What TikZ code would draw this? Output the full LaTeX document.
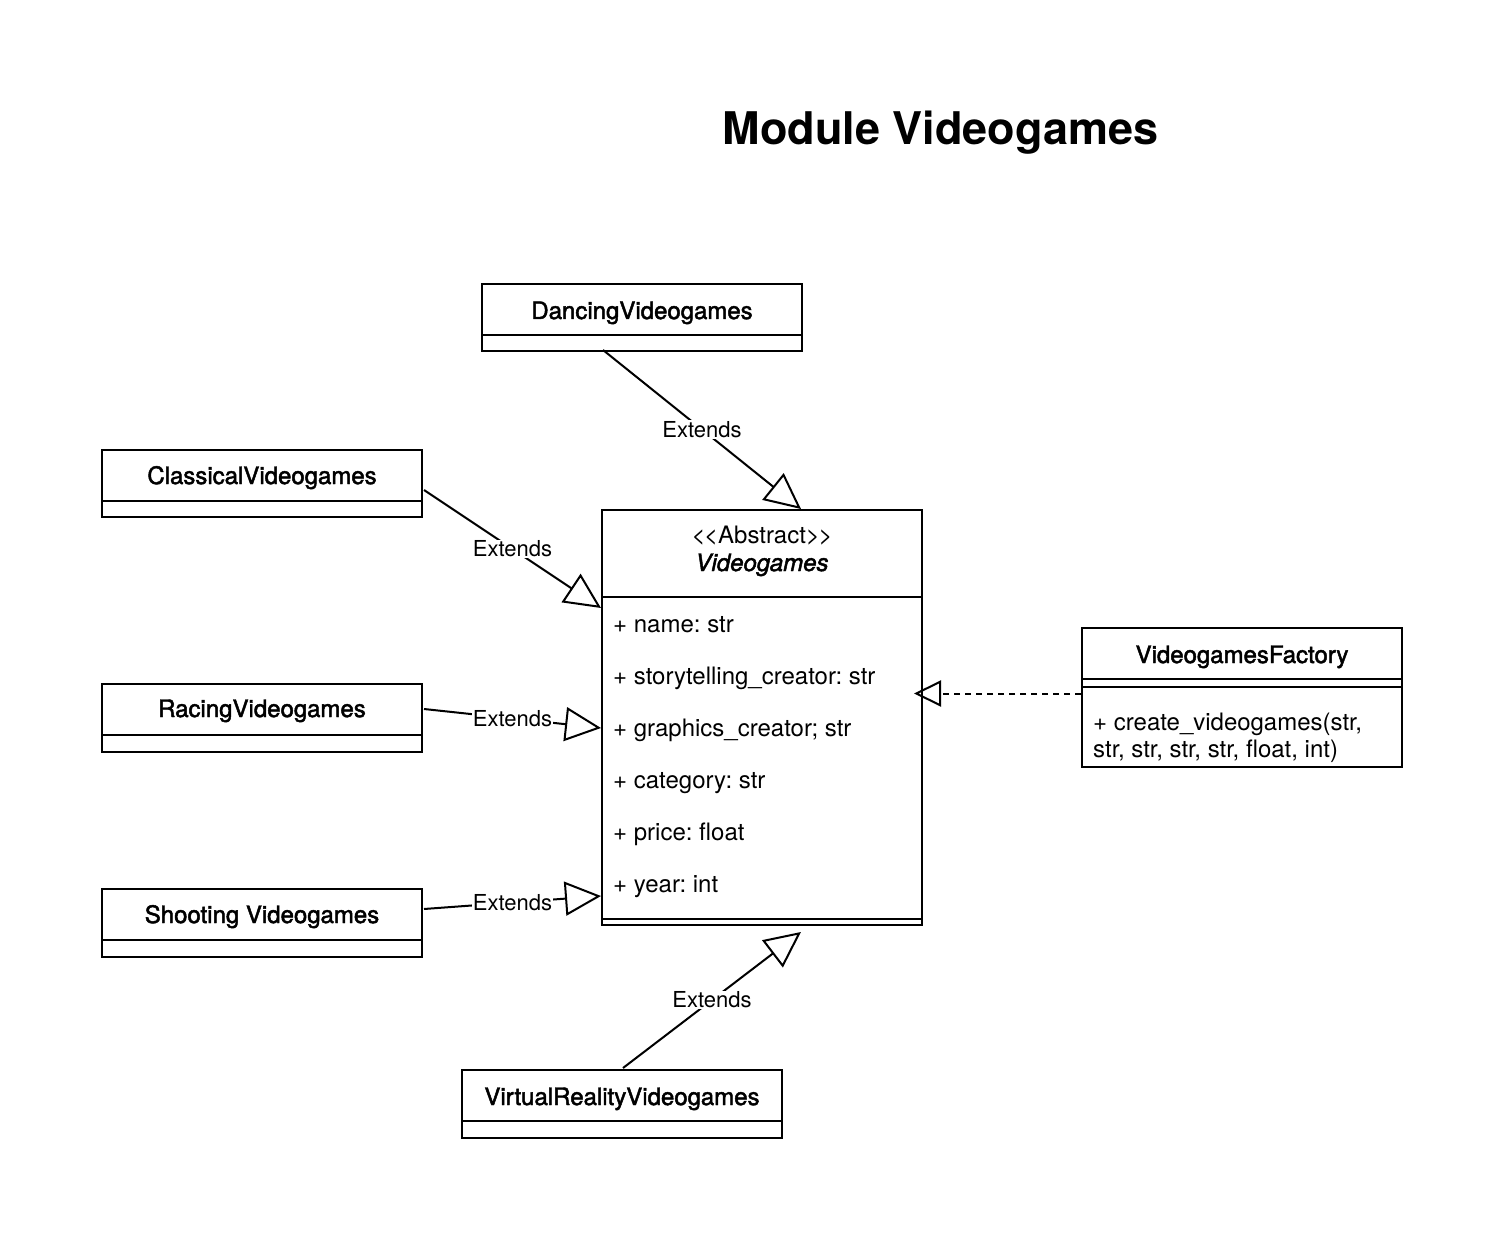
\documentclass[tikz,border=0pt]{standalone}
\usepackage{fontspec}
\setmainfont{TeX Gyre Heros}
\newfontfamily\fbfont{TeX Gyre Heros}[FakeBold=2]
\usetikzlibrary{arrows.meta,calc}
\frenchspacing
\tikzset{
  clsbox/.style={draw, line width=2pt, minimum width=320pt, minimum height=#1, inner sep=0pt, anchor=north west},
  divider/.style={line width=2pt},
  clsname/.style={anchor=base, inner sep=0pt, font=\fbfont\fontsize{24}{28}\selectfont},
  attr/.style={anchor=base west, inner sep=0pt, font=\fontsize{24}{28}\selectfont},
  lbl/.style={pos=0.5, fill=white, inner sep=1pt, font=\fontsize{22}{26}\selectfont},
  genl/.style={line width=2pt, -{Triangle[open, length=36pt, width=34pt]}},
  realz/.style={line width=2pt, dash pattern=on 6pt off 5pt, -{Triangle[open, length=27pt, width=26pt]}}
}
\begin{document}
\begin{tikzpicture}[x=1pt, y=-1pt]
\useasboundingbox[fill=white] (0,0) rectangle (1502,1238);

% title
\node[anchor=base, inner sep=0pt, font=\bfseries\fontsize{45}{52}\selectfont] (title) at (940.5,145) {Module Videogames};

% boxes
\node[clsbox=67pt] (dancing) at (481,283) {};
\node[clsbox=67pt] (classical) at (101,449) {};
\node[clsbox=68pt] (racing) at (101,683) {};
\node[clsbox=68pt] (shooting) at (101,888) {};
\node[clsbox=68pt] (vr) at (461,1069) {};
\node[clsbox=415pt] (vg) at (601,509) {};
\node[clsbox=139pt] (factory) at (1081,627) {};

% dividers
\foreach \b in {dancing,classical,racing,shooting,vr}{
  \draw[divider] ($(\b.north west)+(0,52)$) -- ($(\b.north east)+(0,52)$);
}
\draw[divider] ($(vg.north west)+(0,88)$) -- ($(vg.north east)+(0,88)$);
\draw[divider] ($(vg.south west)+(0,-7)$) -- ($(vg.south east)+(0,-7)$);
\draw[divider] ($(factory.north west)+(0,52)$) -- ($(factory.north east)+(0,52)$);
\draw[divider] ($(factory.north west)+(0,60)$) -- ($(factory.north east)+(0,60)$);

% class names
\node[clsname] (ndancing) at ($(dancing.north)+(0,36)$) {DancingVideogames};
\node[clsname] (nclassical) at ($(classical.north)+(0,35)$) {ClassicalVideogames};
\node[clsname] (nracing) at ($(racing.north)+(0,34)$) {RacingVideogames};
\node[clsname] (nshooting) at ($(shooting.north)+(0,35)$) {Shooting Videogames};
\node[clsname] (nvr) at ($(vr.north)+(0,36)$) {VirtualRealityVideogames};
\node[clsname] (nfactory) at ($(factory.north)+(0,36)$) {VideogamesFactory};

% abstract header
\node[attr, anchor=base] (stereo) at ($(vg.north)+(0,34)$) {<\kern-1.5pt<Abstract>\kern-1.5pt>};
\node[clsname] (nvg) at ($(vg.north)+(0,62)$) {\itshape Videogames};

% attributes
\node[attr] (a1) at (613,632) {+ name: str};
\node[attr] (a2) at (613,684) {+ storytelling\_creator: str};
\node[attr] (a3) at (613,736) {+ graphics\_creator; str};
\node[attr] (a4) at (613,788) {+ category: str};
\node[attr] (a5) at (613,840) {+ price: float};
\node[attr] (a6) at (613,892) {+ year: int};

% factory method
\node[attr] (m1) at (1093,730) {+ create\_videogames(str,};
\node[attr] (m2) at (1093,757) {str, str, str, str, float, int)};

% connectors
\draw[genl] ($(dancing.south)+(-39,-2)$) -- node[lbl] {Extends} ($(vg.north)+(39,0)$);
\draw[genl] ($(classical.east)+(1,6.5)$) -- node[lbl] {Extends} ($(vg.west)+(0,-109.5)$);
\draw[genl] ($(racing.east)+(1,-9)$) -- node[lbl] {Extends} ($(vg.west)+(0,10.5)$);
\draw[genl] ($(shooting.east)+(1,-14)$) -- node[lbl] {Extends} ($(vg.west)+(0,178.5)$);
\draw[genl] ($(vr.north)+(1,-1)$) -- node[lbl] {Extends} ($(vg.south)+(39,6)$);
\draw[realz] ($(factory.west)+(0,-4)$) -- ($(vg.east)+(-9,-24)$);
\end{tikzpicture}
\end{document}
